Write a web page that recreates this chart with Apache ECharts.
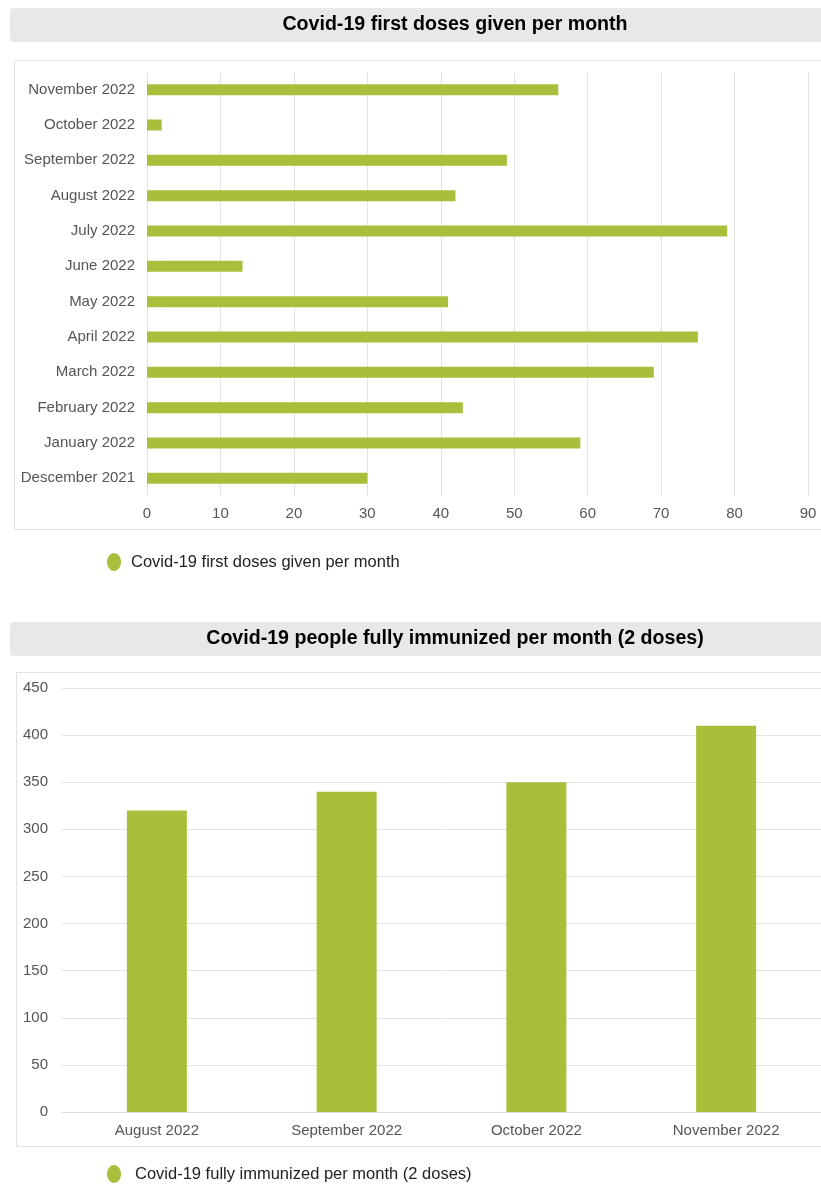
<!DOCTYPE html>
<html>
<head>
<meta charset="utf-8">
<script src="https://cdn.jsdelivr.net/npm/echarts@6/dist/echarts.min.js"></script>
<style>
  html, body { margin: 0; padding: 0; background: #ffffff; }
  #chart { width: 821px; height: 1187px; }
</style>
</head>
<body>
<div id="chart"></div>
<script>
// First doses per month (horizontal bars, bottom category first)
const firstDoseMonths = [
  'Descember 2021', 'January 2022', 'February 2022', 'March 2022', 'April 2022', 'May 2022',
  'June 2022', 'July 2022', 'August 2022', 'September 2022', 'October 2022', 'November 2022'
];
const firstDoseValues = [30, 59, 43, 69, 75, 41, 13, 79, 42, 49, 2, 56];
const firstDoseTicks = [0, 10, 20, 30, 40, 50, 60, 70, 80, 90];

// People fully immunized per month (vertical bars)
const immunizedMonths = ['August 2022', 'September 2022', 'October 2022', 'November 2022'];
const immunizedValues = [320, 340, 350, 410];
const immunizedTicks = [0, 50, 100, 150, 200, 250, 300, 350, 400, 450];

const title1 = 'Covid-19 first doses given per month';
const title2 = 'Covid-19 people fully immunized per month (2 doses)';
const series1Name = 'Covid-19 first doses given per month';
const series2Name = 'Covid-19 fully immunized per month (2 doses)';

const GREEN = '#a9bf3b';
const FONT = '"Liberation Sans", Arial, Helvetica, sans-serif';
const LABEL = { color: '#555555', fontSize: 15, fontFamily: FONT };
const GRID_LINE = { lineStyle: { color: '#e3e3e3', width: 1 } };
// oval legend marker (stretched to itemWidth x itemHeight)
const OVAL = 'path://M50 0C77.6 0 100 22.4 100 50C100 77.6 77.6 100 50 100C22.4 100 0 77.6 0 50C0 22.4 22.4 0 50 0Z';

const chart = echarts.init(document.getElementById('chart'), null, { renderer: 'canvas' });

chart.setOption({
  backgroundColor: '#ffffff',
  animation: false,
  graphic: [
    // header bars
    { type: 'rect', shape: { x: 10, y: 8, width: 830, height: 34, r: 4 }, style: { fill: '#e8e8e8' }, silent: true },
    { type: 'rect', shape: { x: 10, y: 622, width: 830, height: 34, r: 4 }, style: { fill: '#e8e8e8' }, silent: true },
    // panel frames
    { type: 'rect', shape: { x: 14.5, y: 60.5, width: 830, height: 469 }, style: { fill: 'none', stroke: '#e2e2e2', lineWidth: 1 }, silent: true },
    { type: 'rect', shape: { x: 16.5, y: 672.5, width: 830, height: 474 }, style: { fill: 'none', stroke: '#e2e2e2', lineWidth: 1 }, silent: true },
    // header titles
    { type: 'text', x: 455, y: 25, style: { text: title1, fill: '#000000', font: 'bold 19.6px ' + FONT, textAlign: 'center', textVerticalAlign: 'middle' }, silent: true },
    { type: 'text', x: 455, y: 639, style: { text: title2, fill: '#000000', font: 'bold 19.6px ' + FONT, textAlign: 'center', textVerticalAlign: 'middle' }, silent: true }
  ],
  legend: [
    {
      data: [series1Name], left: 107, top: 553, padding: 0,
      icon: OVAL, itemWidth: 14, itemHeight: 18, symbolKeepAspect: false,
      textStyle: { color: '#222222', fontSize: 16.5, fontFamily: FONT, padding: [0, 0, 0, 5] },
      selectedMode: false
    },
    {
      data: [series2Name], left: 107, top: 1165, padding: 0,
      icon: OVAL, itemWidth: 14, itemHeight: 18, symbolKeepAspect: false,
      textStyle: { color: '#222222', fontSize: 16.5, fontFamily: FONT, padding: [0, 0, 0, 9] },
      selectedMode: false
    }
  ],
  grid: [
    { left: 147, top: 72, width: 661, height: 424, containLabel: false },
    { left: 62, top: 688, width: 761, height: 424, containLabel: false }
  ],
  xAxis: [
    {
      gridIndex: 0, type: 'value',
      min: firstDoseTicks[0], max: firstDoseTicks[firstDoseTicks.length - 1], interval: 10,
      axisLine: { show: false }, axisTick: { show: false },
      axisLabel: Object.assign({ margin: 10 }, LABEL),
      splitLine: Object.assign({ show: true }, GRID_LINE)
    },
    {
      gridIndex: 1, type: 'category', data: immunizedMonths,
      axisLine: { show: true, lineStyle: { color: '#dddddd' } }, axisTick: { show: false },
      axisLabel: Object.assign({ margin: 11 }, LABEL),
      splitLine: { show: false }
    }
  ],
  yAxis: [
    {
      gridIndex: 0, type: 'category', data: firstDoseMonths,
      axisLine: { show: false }, axisTick: { show: false },
      axisLabel: Object.assign({ margin: 12 }, LABEL),
      splitLine: { show: false }
    },
    {
      gridIndex: 1, type: 'value',
      min: immunizedTicks[0], max: immunizedTicks[immunizedTicks.length - 1], interval: 50,
      axisLine: { show: false }, axisTick: { show: false },
      axisLabel: Object.assign({ margin: 14 }, LABEL),
      splitLine: Object.assign({ show: true }, GRID_LINE)
    }
  ],
  series: [
    {
      name: series1Name, type: 'bar', xAxisIndex: 0, yAxisIndex: 0,
      data: firstDoseValues, barWidth: 11,
      itemStyle: { color: GREEN }
    },
    {
      name: series2Name, type: 'bar', xAxisIndex: 1, yAxisIndex: 1,
      data: immunizedValues, barWidth: 60,
      itemStyle: { color: GREEN }
    }
  ]
});
</script>
</body>
</html>
